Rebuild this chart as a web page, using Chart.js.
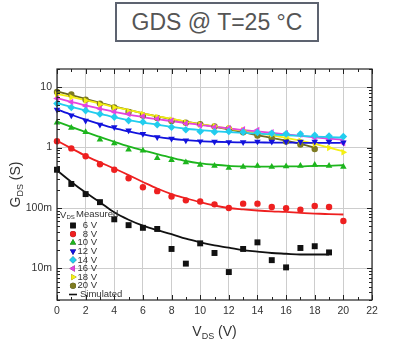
<!DOCTYPE html>
<html><head><meta charset="utf-8">
<script src="https://cdn.jsdelivr.net/npm/chart.js@4.4.1/dist/chart.umd.min.js"></script>
<style>
html,body{margin:0;padding:0;background:#fff;}
#wrap{position:relative;width:407px;height:357px;overflow:hidden;}
#title{position:absolute;left:115px;top:2px;width:204px;height:40px;box-sizing:border-box;border:2px solid #5d6370;
  font-family:"Liberation Sans",Arial,sans-serif;font-size:23px;color:#555;text-align:center;line-height:36px;white-space:nowrap;}
#c{position:absolute;left:0;top:0;}
</style></head>
<body><div id="wrap"><div id="title">GDS @ T=25 °C</div><canvas id="c" width="407" height="357"></canvas></div>
<script>
// ---- data ----
const vds = [0,1,2,3,4,5,6,7,8,9,10,11,12,13,14,15,16,17,18,19,20];
const seriesLabels = ['6 V','8 V','10 V','12 V','14 V','16 V','18 V','20 V'];
const meas6V  = [0.43,0.25,0.17,0.125,0.065,0.052,0.047,0.045,0.021,0.012,0.026,0.018,0.0087,0.021,0.027,0.0137,0.0104,0.0218,0.0233,0.0184];
const meas8V  = [1.27,0.97,0.72,0.53,0.43,0.31,0.22,0.19,0.155,0.134,0.128,0.115,0.10,0.118,0.118,0.104,0.099,0.094,0.108,0.104,0.061];
const meas10V = [2.6,2.13,1.8,1.36,1.18,0.93,0.89,0.67,0.62,0.57,0.52,0.5,0.46,0.48,0.5,0.48,0.49,0.5,0.52,0.5,0.48];
const meas12V = [4.25,3.4,2.8,2.4,2.18,1.92,1.69,1.49,1.4,1.31,1.27,1.25,1.23,1.23,1.26,1.25,1.25,1.25,1.25,1.25,1.22];
const meas14V = [5.35,4.6,4.1,3.6,3.2,2.8,2.65,2.4,2.18,1.97,1.85,1.82,1.85,1.8,1.78,1.72,1.69,1.68,1.6,1.55,1.52];
const meas16V = [6.5,5.7,4.9,4.4,3.9,3.6,3.3,3.0,2.8,2.5,2.33,2.18,2.1,2.0,1.95,1.8,1.73,1.65,1.45,1.34,1.18];
const meas18V = [7.6,6.8,6.0,5.2,4.6,4.0,3.6,3.2,2.9,2.6,2.4,2.25,2.1,1.95,1.8,1.65,1.5,1.3,1.15,0.99,0.84];
const meas20V = [8.3,7.6,6.2,5.35,4.6,3.9,3.4,3.1,2.75,2.58,2.45,2.24,2.05,1.8,1.58,1.43,1.26,1.12,0.95];
const sim6V  = [0.42,0.27,0.18,0.125,0.085,0.064,0.051,0.043,0.037,0.031,0.027,0.024,0.022,0.020,0.019,0.018,0.0175,0.017,0.017,0.017];
const sim8V  = [1.3,0.97,0.73,0.57,0.45,0.35,0.27,0.21,0.17,0.145,0.125,0.11,0.1,0.095,0.091,0.088,0.086,0.083,0.081,0.079,0.078];
const sim10V = [2.7,2.2,1.8,1.5,1.25,1.05,0.9,0.78,0.68,0.6,0.55,0.52,0.5,0.49,0.485,0.485,0.49,0.49,0.5,0.5,0.51];
const sim12V = [4.3,3.5,2.9,2.45,2.1,1.85,1.65,1.5,1.4,1.33,1.28,1.25,1.23,1.22,1.22,1.21,1.21,1.2,1.2,1.2,1.2];
const sim14V = [5.5,4.7,4.1,3.6,3.2,2.85,2.6,2.4,2.2,2.05,1.95,1.87,1.8,1.75,1.7,1.65,1.6,1.56,1.52,1.49,1.46];
const sim16V = [6.6,5.7,5.0,4.4,3.9,3.5,3.2,2.95,2.75,2.55,2.38,2.22,2.08,1.95,1.85,1.75,1.65,1.56,1.48,1.41,1.34];
const sim18V = [7.8,6.9,6.1,5.4,4.7,4.2,3.7,3.3,3.0,2.7,2.45,2.25,2.05,1.9,1.75,1.6,1.45,1.3,1.15,1.0,0.87];
const sim20V = [8.5,7.4,6.4,5.5,4.8,4.2,3.7,3.3,2.95,2.7,2.45,2.2,2.0,1.8,1.6,1.45,1.3,1.15,1.0];
const xTickValues = [0,2,4,6,8,10,12,14,16,18,20,22];
const yTickValues = [0.01,0.1,1,10];
const yTickLabels = ['10m','100m','1','10'];

const measured = [meas6V,meas8V,meas10V,meas12V,meas14V,meas16V,meas18V,meas20V];
const simulated = [sim6V,sim8V,sim10V,sim12V,sim14V,sim16V,sim18V,sim20V];
const colors = ['#111111','#ee2020','#1db51d','#1212dd','#22cdee','#e444e0','#f4ef12','#7e7b22'];
const lineColors = ['#111111','#ee2020','#1db51d','#1212dd','#22cdee','#e444e0','#f4ef12','#6b6920'];
const styles = [
  {s:'rect',r:4.2,rot:0},{s:'circle',r:3.2,rot:0},{s:'triangle',r:3.8,rot:0},{s:'triangle',r:3.8,rot:180},
  {s:'rectRot',r:3.8,rot:0},{s:'triangle',r:3.8,rot:-90},{s:'triangle',r:3.8,rot:90},{s:'circle',r:3.2,rot:0}];

const FONT = '"Liberation Sans", Arial, sans-serif';
const pts = arr => arr.map((y,i)=>({x:vds[i],y}));
const datasets = [];
measured.forEach((arr,i)=>{
  datasets.push({label:seriesLabels[i]+' measured',data:pts(arr),showLine:false,order:0,clip:false,
    pointStyle:styles[i].s,pointRadius:styles[i].r,pointRotation:styles[i].rot,
    backgroundColor:colors[i],borderColor:colors[i],pointBorderWidth:0});
});
simulated.forEach((arr,i)=>{
  datasets.push({label:seriesLabels[i]+' simulated',data:pts(arr),showLine:true,order:1,pointRadius:0,
    borderColor:lineColors[i],borderWidth:1.8,cubicInterpolationMode:'monotone',fill:false});
});

const frame = {
  id:'frame',
  afterDatasetsDraw(chart){
    const {ctx,chartArea:a,scales:{x,y}} = chart;
    ctx.save();
    ctx.strokeStyle='#222';ctx.lineWidth=1.2;
    ctx.strokeRect(a.left,a.top,a.right-a.left,a.bottom-a.top);
    ctx.lineWidth=1;
    ctx.beginPath();
    for(let v=0;v<=22;v++){
      const px=Math.round(x.getPixelForValue(v))+0.5, L=(v%2===0)?5:3;
      ctx.moveTo(px,a.bottom);ctx.lineTo(px,a.bottom-L);
      ctx.moveTo(px,a.top);ctx.lineTo(px,a.top+L);
    }
    for(let d=-3;d<=1;d++){
      for(let m=1;m<=9;m++){
        const v=m*Math.pow(10,d);
        if(v<y.min||v>y.max) continue;
        const py=Math.round(y.getPixelForValue(v))+0.5, L=(m===1)?5:3;
        ctx.moveTo(a.left,py);ctx.lineTo(a.left+L,py);
        ctx.moveTo(a.right,py);ctx.lineTo(a.right-L,py);
      }
    }
    ctx.stroke();

    // legend
    const lx=a.left, ly=a.bottom;
    ctx.fillStyle='#333';ctx.textBaseline='middle';
    ctx.font='9.5px '+FONT;ctx.textAlign='left';
    ctx.fillText('V',lx+3,ly-85);
    ctx.font='6px '+FONT;ctx.fillText('DS',lx+9.5,ly-82.5);
    ctx.font='9.5px '+FONT;ctx.fillText('Measured',lx+19,ly-86);
    seriesLabels.forEach((lab,i)=>{
      const yy=ly-74.5+i*8.6;
      Chart.helpers.drawPoint(ctx,{pointStyle:styles[i].s,radius:styles[i].r*0.95,rotation:styles[i].rot,borderWidth:0},lx+16,yy);
      ctx.fillStyle=colors[i];ctx.fill();
      ctx.fillStyle='#333';ctx.textAlign='right';ctx.fillText(lab,lx+40,yy);
    });
    const ys=ly-5.5;
    ctx.strokeStyle='#111';ctx.lineWidth=1.6;
    ctx.beginPath();ctx.moveTo(lx+12,ys);ctx.lineTo(lx+20,ys);ctx.stroke();
    ctx.textAlign='left';ctx.fillText('Simulated',lx+23,ys);

    // axis titles
    ctx.fillStyle='#333';ctx.textBaseline='alphabetic';
    const cx=(a.left+a.right)/2;
    ctx.font='14px '+FONT;
    const w1=ctx.measureText('V').width;ctx.font='9px '+FONT;const w2=ctx.measureText('DS').width;
    ctx.font='14px '+FONT;const w3=ctx.measureText(' (V)').width;
    let sx=cx-(w1+w2+w3)/2, by=336;
    ctx.textAlign='left';
    ctx.fillText('V',sx,by);ctx.font='9px '+FONT;ctx.fillText('DS',sx+w1,by+3);
    ctx.font='14px '+FONT;ctx.fillText(' (V)',sx+w1+w2,by);

    ctx.translate(20,(a.top+a.bottom)/2);ctx.rotate(-Math.PI/2);
    const g1=ctx.measureText('G').width;ctx.font='9px '+FONT;const g2=ctx.measureText('DS').width;
    ctx.font='14px '+FONT;const g3=ctx.measureText(' (S)').width;
    sx=-(g1+g2+g3)/2;
    ctx.fillText('G',sx,0);ctx.font='9px '+FONT;ctx.fillText('DS',sx+g1,3);
    ctx.font='14px '+FONT;ctx.fillText(' (S)',sx+g1+g2,0);
    ctx.restore();
  }
};

new Chart(document.getElementById('c'),{
  type:'line',
  data:{datasets},
  options:{
    responsive:false,animation:false,devicePixelRatio:1,
    layout:{padding:{top:69,right:35,left:0,bottom:0}},
    plugins:{legend:{display:false},title:{display:false},tooltip:{enabled:false}},
    scales:{
      x:{type:'linear',min:0,max:22,
        afterBuildTicks:s=>{s.ticks=xTickValues.map(v=>({value:v}));},
        afterFit:s=>{s.height=57;},
        grid:{color:'#cdcdcd',lineWidth:1,drawTicks:false},border:{display:false},
        ticks:{padding:5,autoSkip:false,maxRotation:0,color:'#333',font:{family:FONT,size:10.5}}},
      y:{type:'logarithmic',min:0.003,max:20,
        afterBuildTicks:s=>{s.ticks=yTickValues.map(v=>({value:v}));},
        afterFit:s=>{s.width=57;},
        grid:{color:'#cdcdcd',lineWidth:1,drawTicks:false},border:{display:false},
        ticks:{padding:5,autoSkip:false,color:'#333',font:{family:FONT,size:10.5},
          callback:(v)=>{const i=yTickValues.findIndex(t=>Math.abs(t-v)/t<1e-6);return i>=0?yTickLabels[i]:'';}}}
    }
  },
  plugins:[frame]
});
</script></body></html>
